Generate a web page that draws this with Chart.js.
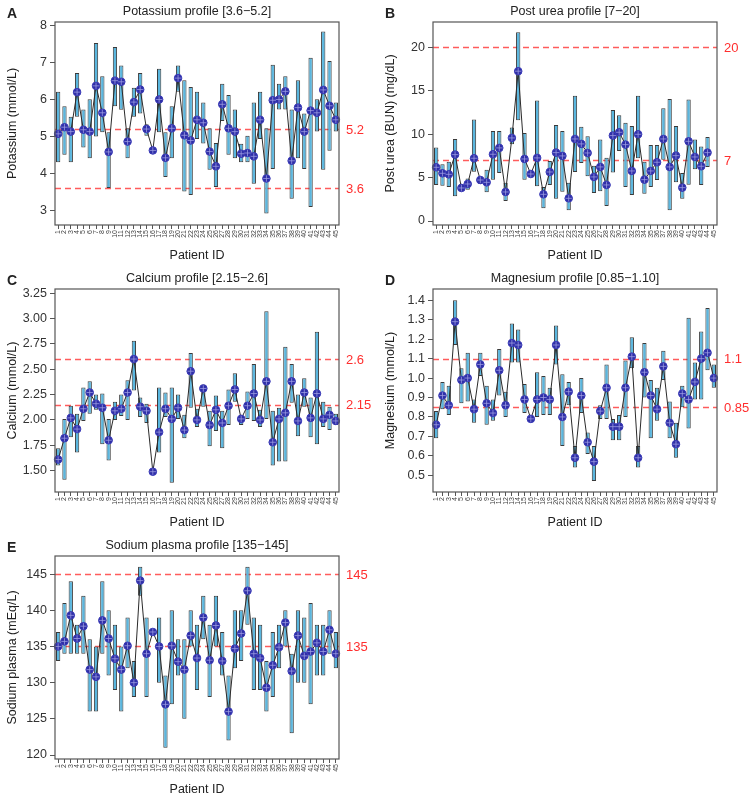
<!DOCTYPE html>
<html>
<head>
<meta charset="utf-8">
<title>Electrolyte profiles</title>
<script src="https://cdn.jsdelivr.net/npm/chart.js@4.4.1/dist/chart.umd.min.js"></script>
<style>
  html, body { margin: 0; padding: 0; background: #fff; }
  #page { position: relative; width: 752px; height: 801px; overflow: hidden; }
  canvas { position: absolute; }
</style>
</head>
<body>
<div id="page">
  <canvas id="chartA" width="376" height="267" style="left:0px;top:0px"></canvas>
  <canvas id="chartB" width="376" height="267" style="left:376px;top:0px"></canvas>
  <canvas id="chartC" width="376" height="267" style="left:0px;top:267px"></canvas>
  <canvas id="chartD" width="376" height="267" style="left:376px;top:267px"></canvas>
  <canvas id="chartE" width="376" height="267" style="left:0px;top:534px"></canvas>
</div>
<script>
// patient ids on the x axis
var patients = ['1','2','3','4','5','6','7','8','9','10','11','12','13','14','15','16','17','18','19','20',
  '21','22','23','24','25','26','27','28','29','30','31','32','33','34','35','36','37','38','39','40',
  '41','42','43','44','45'];

// A - potassium (mmol/L)
var potassiumMin = [4.30,4.50,4.30,5.53,4.70,4.41,5.00,5.11,3.60,5.82,5.72,4.41,5.53,5.62,5.02,4.62,5.11,3.90,4.41,6.21,
  3.51,3.41,4.93,4.81,4.10,3.63,5.42,4.50,4.41,4.30,4.30,3.72,4.93,2.91,4.12,5.73,5.73,3.31,4.41,4.12,3.09,5.13,4.10,4.61,5.13];
var potassiumMax = [6.21,5.82,5.53,6.72,5.73,6.01,7.53,6.63,5.11,7.42,6.92,5.22,6.32,6.72,5.33,4.62,6.83,5.11,5.82,6.92,
  6.52,6.34,6.21,5.92,5.22,4.82,6.43,6.12,5.73,4.80,5.02,5.92,6.21,5.22,6.94,6.43,6.63,5.73,6.52,5.62,7.13,6.01,7.84,7.04,5.92];
var potassiumMean = [5.07,5.25,5.13,6.20,5.18,5.13,6.37,5.64,4.58,6.51,6.48,4.86,5.93,6.27,5.20,4.62,6.00,4.42,5.22,6.58,
  5.03,4.89,5.45,5.37,4.59,4.19,5.87,5.22,5.13,4.53,4.55,4.46,5.45,3.86,5.98,6.00,6.22,4.34,5.78,5.13,5.70,5.64,6.26,5.83,5.45];

// B - post urea (mg/dL), patient 45 has no value
var ureaMin = [4.15,4.07,3.92,2.84,3.45,3.61,5.68,4.26,3.30,4.76,5.53,2.30,8.83,11.59,4.76,5.41,3.99,1.46,4.15,2.57,
  3.38,1.23,5.64,6.68,5.14,3.22,3.42,1.73,5.57,8.06,3.92,2.99,7.22,3.15,3.90,4.72,7.06,1.23,4.45,2.57,4.18,5.95,4.15,6.22,null];
var ureaMax = [8.45,6.53,6.83,9.44,4.26,4.88,11.67,5.11,5.91,10.36,10.36,4.41,10.75,21.73,10.13,5.41,13.86,3.92,6.91,11.06,
  10.36,4.41,14.40,10.86,9.75,6.37,9.37,7.29,12.78,12.17,11.32,10.94,14.40,6.83,8.75,8.75,12.98,14.05,10.94,5.53,13.97,9.37,8.56,9.67,null];
var ureaMean = [6.18,5.49,5.37,7.64,3.80,4.26,7.22,4.72,4.45,7.68,8.41,3.34,9.56,17.24,7.14,5.41,7.26,3.07,5.64,7.87,
  7.49,2.61,9.44,8.87,7.83,5.07,6.22,4.15,9.83,10.21,8.79,5.76,9.98,4.76,5.76,6.76,9.44,6.22,7.52,3.84,9.17,7.37,6.30,7.87,null];

// C - calcium (mmol/L)
var calciumMin = [1.55,1.41,1.83,1.68,1.99,2.06,2.10,1.76,1.60,2.00,2.04,2.00,2.29,2.03,1.97,1.49,1.68,2.03,1.38,2.01,
  1.82,2.12,1.93,2.13,1.74,1.89,1.72,1.95,2.18,1.95,2.01,1.99,1.93,2.01,1.55,1.59,1.59,2.17,1.84,2.13,1.83,1.76,1.93,1.90,1.95];
var calciumMax = [1.72,2.01,2.14,2.06,2.32,2.38,2.25,2.26,2.01,2.18,2.25,2.39,2.78,2.22,2.16,1.49,2.32,2.27,2.32,2.25,
  2.05,2.66,2.11,2.35,2.09,2.24,2.09,2.30,2.46,2.05,2.28,2.55,2.10,3.07,2.09,2.12,2.72,2.55,2.25,2.41,2.22,2.87,2.18,2.13,2.06];
var calciumMean = [1.61,1.82,2.02,1.91,2.11,2.27,2.16,2.12,1.80,2.09,2.11,2.27,2.60,2.13,2.09,1.49,1.88,2.11,2.01,2.12,
  1.90,2.48,2.00,2.31,1.95,2.10,1.97,2.14,2.30,2.01,2.14,2.26,2.00,2.38,1.78,2.01,2.07,2.38,1.99,2.27,2.02,2.26,2.01,2.05,1.99];

// D - magnesium (mmol/L)
var magnesiumMin = [0.69,0.84,0.81,1.17,0.87,0.88,0.77,1.01,0.76,0.78,0.91,0.80,1.08,1.08,0.82,0.79,0.80,0.81,0.81,1.07,
  0.65,0.86,0.54,0.82,0.61,0.47,0.79,0.79,0.68,0.68,0.80,1.05,0.54,0.90,0.69,0.78,0.99,0.69,0.59,0.85,0.74,0.89,0.89,1.04,0.95];
var magnesiumMax = [0.83,0.98,0.96,1.40,1.05,1.13,0.89,1.13,0.96,0.89,1.15,0.93,1.28,1.25,0.97,0.79,1.03,1.01,0.95,1.27,
  1.02,0.98,0.65,1.00,0.72,0.65,0.86,1.07,0.79,0.81,1.09,1.21,0.65,1.18,0.99,0.95,1.14,0.88,0.77,0.96,1.31,1.08,1.24,1.36,1.07];
var magnesiumMean = [0.76,0.91,0.86,1.29,0.99,1.00,0.84,1.07,0.87,0.82,1.04,0.86,1.18,1.17,0.89,0.79,0.89,0.90,0.89,1.17,
  0.80,0.93,0.59,0.91,0.67,0.57,0.83,0.95,0.75,0.75,0.95,1.11,0.59,1.03,0.91,0.84,1.06,0.77,0.66,0.92,0.89,0.98,1.10,1.13,1.00];

// E - sodium plasma (mEq/L)
var sodiumMin = [133,134,134,134,134,126,126,134,131,129,126,132,128,142,128,137,130,121,127,131,
  125,135,129,136,128,135,131,122,132,133,138,129,129,126,128,132,135,123,130,130,127,131,131,134,132];
var sodiumMax = [137,141,144,138,142,136,135,144,140,138,135,139,133,146,139,137,139,131,140,136,
  136,140,138,142,138,142,137,131,140,140,146,139,138,133,137,138,140,134,140,139,141,138,138,140,137];
var sodiumMean = [135.0,135.7,139.3,136.1,137.8,131.8,130.8,138.6,136.1,133.3,131.8,135.1,130.0,144.1,134.0,137.0,135.0,127.0,135.1,132.9,
  131.8,136.5,133.4,139.0,133.1,137.9,133.0,126.0,134.7,136.8,142.7,134.0,133.4,129.3,132.4,134.9,138.3,131.6,136.5,133.7,134.3,135.5,134.3,137.3,134.0];

// reference ranges and y ticks
var potassiumRef = [3.6, 5.2];
var ureaRef = [7, 20];
var calciumRef = [2.15, 2.6];
var magnesiumRef = [0.85, 1.1];
var sodiumRef = [135, 145];

var potassiumTicks = [3, 4, 5, 6, 7, 8];
var ureaTicks = [0, 5, 10, 15, 20];
var calciumTicks = [1.5, 1.75, 2, 2.25, 2.5, 2.75, 3, 3.25];
var magnesiumTicks = [0.5, 0.6, 0.7, 0.8, 0.9, 1.0, 1.1, 1.2, 1.3, 1.4];
var sodiumTicks = [120, 125, 130, 135, 140, 145];

var FONT = '"Liberation Sans", Arial, Helvetica, sans-serif';

function ranges(lo, hi) {
  return lo.map(function (v, i) {
    return (v === null || hi[i] === null) ? null : [v, hi[i]];
  });
}

var decoPlugin = {
  id: 'deco',
  beforeDatasetsDraw: function (chart, args, o) {
    var ctx = chart.ctx, a = chart.chartArea, ys = chart.scales.y;
    ctx.save();
    ctx.strokeStyle = '#ff5c5c';
    ctx.lineWidth = 1.3;
    ctx.setLineDash([6, 4]);
    o.refs.forEach(function (r) {
      var py = Math.round(ys.getPixelForValue(r)) + 0.5;
      ctx.beginPath();
      ctx.moveTo(a.left, py);
      ctx.lineTo(a.right, py);
      ctx.stroke();
    });
    ctx.restore();
  },
  afterDraw: function (chart, args, o) {
    var ctx = chart.ctx, a = chart.chartArea, ys = chart.scales.y;
    ctx.save();
    // plot box
    ctx.strokeStyle = '#555';
    ctx.lineWidth = 1.2;
    ctx.strokeRect(a.left, a.top, a.right - a.left, a.bottom - a.top);

    // reference labels at right
    ctx.fillStyle = '#ff2e2e';
    ctx.font = '13px ' + FONT;
    ctx.textAlign = 'left';
    ctx.textBaseline = 'middle';
    o.refs.forEach(function (r, i) {
      ctx.fillText(o.refLabels[i], a.right + 7, ys.getPixelForValue(r) + 1);
    });

    // title
    ctx.fillStyle = '#222';
    ctx.font = '12.5px ' + FONT;
    ctx.textAlign = 'center';
    ctx.fillText(o.title, (a.left + a.right) / 2, 12);

    // panel letter
    ctx.font = 'bold 14px ' + FONT;
    ctx.textAlign = 'left';
    ctx.fillText(o.letter, a.left - 48, 14);

    // x title
    ctx.font = '12.5px ' + FONT;
    ctx.textAlign = 'center';
    ctx.fillText('Patient ID', (a.left + a.right) / 2, 256);

    // y title
    ctx.translate(a.left - 42, (a.top + a.bottom) / 2);
    ctx.rotate(-Math.PI / 2);
    ctx.fillText(o.ytitle, 0, 0);
    ctx.restore();
  }
};

function makePanel(id, p) {
  var canvas = document.getElementById(id);
  var W = canvas.width, H = canvas.height;
  return new Chart(canvas.getContext('2d'), {
    type: 'bar',
    data: {
      labels: patients,
      datasets: [{
        type: 'line',
        data: p.mean,
        borderColor: '#2a2a2a',
        borderWidth: 1,
        tension: 0,
        pointRadius: 3.8,
        pointBackgroundColor: '#2f2fa6',
        pointBorderColor: '#3a3ab8',
        pointBorderWidth: 1,
        order: 1
      }, {
        type: 'line',
        data: p.mean,
        showLine: false,
        pointStyle: 'cross',
        pointRadius: 3.2,
        pointBorderColor: 'rgba(160,160,230,0.75)',
        pointBorderWidth: 1,
        order: 0
      }, {
        type: 'bar',
        data: ranges(p.min, p.max),
        backgroundColor: '#5ab6de',
        borderColor: '#3a3a3a',
        borderWidth: 1,
        borderSkipped: false,
        barPercentage: 0.68,
        categoryPercentage: 1,
        order: 2
      }]
    },
    options: {
      responsive: false,
      animation: false,
      devicePixelRatio: 1,
      layout: { padding: { left: 0, top: 22, right: W - p.right, bottom: 0 } },
      plugins: {
        legend: { display: false },
        tooltip: { enabled: false },
        deco: { refs: p.refs, refLabels: p.refLabels, title: p.title, ytitle: p.ytitle, letter: p.letter }
      },
      scales: {
        x: {
          offset: true,
          grid: { display: true, offset: false, drawOnChartArea: false, drawTicks: true, tickLength: 4, tickColor: '#555' },
          border: { display: false },
          ticks: {
            autoSkip: false, maxRotation: 90, minRotation: 90, padding: 1,
            color: '#444', font: { family: FONT, size: 7 }
          },
          afterFit: function (s) { s.height = H - 225; }
        },
        y: {
          min: p.ymin, max: p.ymax,
          grid: { display: true, drawOnChartArea: false, drawTicks: true, tickLength: 5, tickColor: '#555' },
          border: { display: false },
          afterBuildTicks: function (s) { s.ticks = p.ticks.map(function (v) { return { value: v }; }); },
          ticks: {
            padding: 3, color: '#333', font: { family: FONT, size: 12.5 },
            callback: function (v) { return p.fmt(v); }
          },
          afterFit: function (s) { s.width = p.left; }
        }
      }
    },
    plugins: [decoPlugin]
  });
}

makePanel('chartA', {
  min: potassiumMin, max: potassiumMax, mean: potassiumMean,
  ymin: 2.6, ymax: 8.1, ticks: potassiumTicks, fmt: function (v) { return String(v); },
  refs: potassiumRef, refLabels: ['3.6', '5.2'],
  title: 'Potassium profile [3.6\u22125.2]', ytitle: 'Potassium (mmol/L)', letter: 'A',
  left: 55, right: 339
});
makePanel('chartB', {
  min: ureaMin, max: ureaMax, mean: ureaMean,
  ymin: -0.46, ymax: 22.9, ticks: ureaTicks, fmt: function (v) { return String(v); },
  refs: ureaRef, refLabels: ['7', '20'],
  title: 'Post urea profile [7\u221220]', ytitle: 'Post urea (BUN) (mg/dL)', letter: 'B',
  left: 57, right: 341
});
makePanel('chartC', {
  min: calciumMin, max: calciumMax, mean: calciumMean,
  ymin: 1.29, ymax: 3.29, ticks: calciumTicks, fmt: function (v) { return v.toFixed(2); },
  refs: calciumRef, refLabels: ['2.15', '2.6'],
  title: 'Calcium profile [2.15\u22122.6]', ytitle: 'Calcium (mmol/L)', letter: 'C',
  left: 55, right: 339
});
makePanel('chartD', {
  min: magnesiumMin, max: magnesiumMax, mean: magnesiumMean,
  ymin: 0.414, ymax: 1.458, ticks: magnesiumTicks, fmt: function (v) { return v.toFixed(1); },
  refs: magnesiumRef, refLabels: ['0.85', '1.1'],
  title: 'Magnesium profile [0.85\u22121.10]', ytitle: 'Magnesium (mmol/L)', letter: 'D',
  left: 57, right: 341
});
makePanel('chartE', {
  min: sodiumMin, max: sodiumMax, mean: sodiumMean,
  ymin: 119.45, ymax: 147.5, ticks: sodiumTicks, fmt: function (v) { return String(v); },
  refs: sodiumRef, refLabels: ['135', '145'],
  title: 'Sodium plasma profile [135\u2212145]', ytitle: 'Sodium plasma (mEq/L)', letter: 'E',
  left: 55, right: 339
});
</script>
</body>
</html>
